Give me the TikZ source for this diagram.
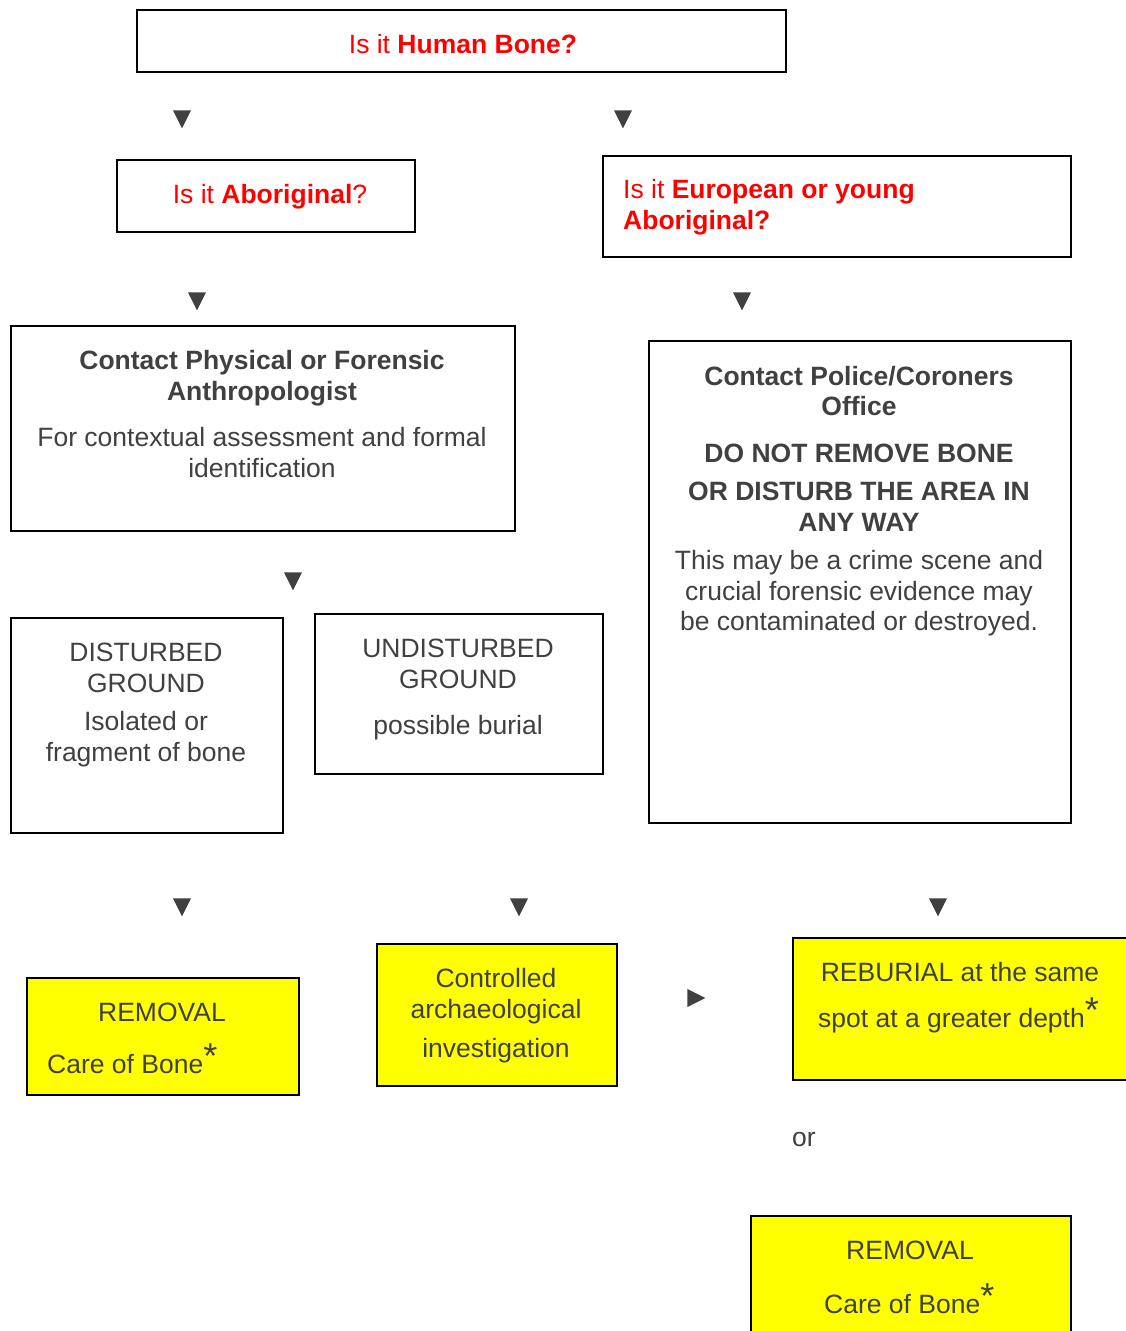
\documentclass[tikz,border=0pt]{standalone}
\usepackage{fontspec}
\setmainfont{Liberation Sans}
\usepackage{xcolor}
\definecolor{ink}{RGB}{64,64,64}
\definecolor{alarm}{RGB}{255,0,0}
\definecolor{note}{RGB}{255,255,0}
\usepackage{tikz}
\usetikzlibrary{shapes.geometric,positioning}

\newcommand{\starmark}{\raisebox{5pt}{\fontsize{36}{36}\selectfont *}}

\begin{document}
\begin{tikzpicture}[
  x=1pt,y=-1pt,
  box/.style={rectangle,draw=black,line width=1.8pt,anchor=north west,inner sep=0pt},
  yellowbox/.style={box,fill=note},
  txt/.style={text=ink,inner sep=0pt,align=center,
              font=\fontsize{26.5}{31}\selectfont},
  question/.style={txt,text=alarm},
  tri/.style={isosceles triangle,isosceles triangle stretches,fill=ink,
              inner sep=0pt,minimum width=18,minimum height=18}
]
  \useasboundingbox (0,0) rectangle (1126,1331);

  % Questions
  \node[box,minimum width=649,minimum height=62] (hb) at (136,9) {};
  \node[question,anchor=base] (hbt) at (463,53.5) {Is it \textbf{Human Bone?}};

  \node[box,minimum width=298,minimum height=72] (ab) at (116,159) {};
  \node[question,anchor=base] (abt) at (270,203.5) {Is it \textbf{Aboriginal}?};

  \node[box,minimum width=468,minimum height=101] (eu) at (602,155) {};
  \node[question,anchor=north west,align=left] (eut) at (623,177)
    {\strut Is it \textbf{European or young}\\\textbf{Aboriginal?}};

  % Contacts
  \node[box,minimum width=504,minimum height=205] (cp) at (10,325) {};
  \node[txt,anchor=north] (cpt) at (262,348)
    {\strut\textbf{Contact Physical or Forensic}\\\textbf{Anthropologist}\\[15pt]
     For contextual assessment and formal\\identification};

  \node[box,minimum width=422,minimum height=482] (pc) at (648,340) {};
  \node[txt,anchor=north,font=\fontsize{26.5}{30.5}\selectfont] (pct) at (859,363.5)
    {\strut\textbf{Contact Police/Coroners}\\\textbf{Office}\\[16pt]
     \textbf{DO NOT REMOVE BONE}\\[8pt]
     \textbf{OR DISTURB THE AREA IN}\\\textbf{ANY WAY}\\[8pt]
     This may be a crime scene and\\crucial forensic evidence may\\
     be contaminated or destroyed.};

  % Ground
  \node[box,minimum width=272,minimum height=215] (dg) at (10,617) {};
  \node[txt,anchor=north] (dgt) at (146,640)
    {\strut DISTURBED\\GROUND\\[7pt]Isolated or\\fragment of bone};

  \node[box,minimum width=288,minimum height=160] (ug) at (314,613) {};
  \node[txt,anchor=north] (ugt) at (458,636)
    {\strut UNDISTURBED\\GROUND\\[15pt]possible burial};

  % Outcomes
  \node[yellowbox,minimum width=272,minimum height=117] (rm) at (26,977) {};
  \node[txt,anchor=base] (rmt) at (162,1021.5) {REMOVAL};
  \node[txt,anchor=base west] (rmc) at (47,1073.5) {Care of Bone\starmark};

  \node[yellowbox,minimum width=240,minimum height=142] (ca) at (376,943) {};
  \node[txt,anchor=north] (cat) at (496,966)
    {\strut Controlled\\archaeological\\[8pt]investigation};

  \node[yellowbox,minimum width=350,minimum height=142] (rb) at (792,937) {};
  \node[txt,anchor=base] (rbt) at (960,981.5) {REBURIAL at the same};
  \node[txt,anchor=base west] (rbs) at (818,1027.5) {spot at a greater depth\starmark};

  \node[txt,anchor=base west] (or) at (792,1146) {or};

  \node[yellowbox,minimum width=320,minimum height=140] (rm2) at (750,1215) {};
  \node[txt,anchor=base] (rm2t) at (910,1259.5) {REMOVAL};
  \node[txt,anchor=base west] (rm2c) at (824,1313.5) {Care of Bone\starmark};

  % Pointers
  \node[tri,shape border rotate=-90] (t1) at (182,116) {};
  \node[tri,shape border rotate=-90] (t2) at (623,116) {};
  \node[tri,shape border rotate=-90] (t3) at (197,298) {};
  \node[tri,shape border rotate=-90] (t4) at (742,298) {};
  \node[tri,shape border rotate=-90] (t5) at (293,578) {};
  \node[tri,shape border rotate=-90] (t6) at (182,904) {};
  \node[tri,shape border rotate=-90] (t7) at (519,904) {};
  \node[tri,shape border rotate=-90] (t8) at (938,904) {};
  \node[tri] (t9) at (693,998) {};

\end{tikzpicture}
\end{document}
